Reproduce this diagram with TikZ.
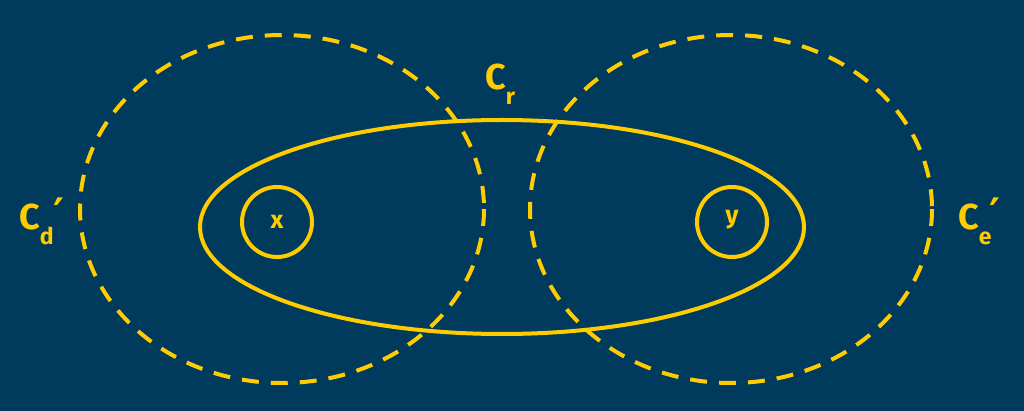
\documentclass[tikz,border=0pt]{standalone}
\usepackage{fontspec}
\setmainfont{Fira Sans}
\newfontfamily\symfont{DejaVu Sans}
\definecolor{bg}{HTML}{003A5C}
\definecolor{gold}{HTML}{FFCC00}
\newcommand{\bigC}{{\fontsize{36}{36}\selectfont C}}
\newcommand{\subl}[1]{\raisebox{-15pt}{\fontsize{23}{23}\selectfont #1}}
\newcommand{\primel}{\raisebox{1pt}{\symfont\bfseries\fontsize{42}{42}\selectfont ′}}
\begin{document}
\begin{tikzpicture}[x=1pt,y=-1pt,
  dashedring/.style={draw=gold,line width=4pt,dash pattern=on 17pt off 12pt},
  solidring/.style={draw=gold,line width=4pt},
  lbl/.style={text=gold,font=\bfseries,inner sep=0pt,anchor=base west},
  ptlbl/.style={text=gold,font=\bfseries\fontsize{25}{27}\selectfont,inner sep=0pt}]
\fill[bg] (0,0) rectangle (1024,411);
\useasboundingbox (0,0) rectangle (1024,411);
\draw[dashedring] (282,209) ellipse [x radius=202, y radius=174];
\draw[dashedring] (731,209) ellipse [x radius=201, y radius=174];
\draw[solidring] (502,227) ellipse [x radius=302, y radius=107];
\node[solidring,circle,minimum size=70pt,inner sep=0pt] (x) at (277,222) {};
\node[solidring,circle,minimum size=70pt,inner sep=0pt] (y) at (732,222) {};
\node[ptlbl] at (277,222) {x};
\node[ptlbl] at (732,220) {y};
\node[lbl] (cd) at (19,230) {\bigC\subl{d}\hspace{0pt}\primel};
\node[lbl] (ce) at (958,230) {\bigC\subl{e}\hspace{-2pt}\primel};
\node[lbl] (cr) at (485,90) {\bigC\subl{r}};
\end{tikzpicture}
\end{document}
